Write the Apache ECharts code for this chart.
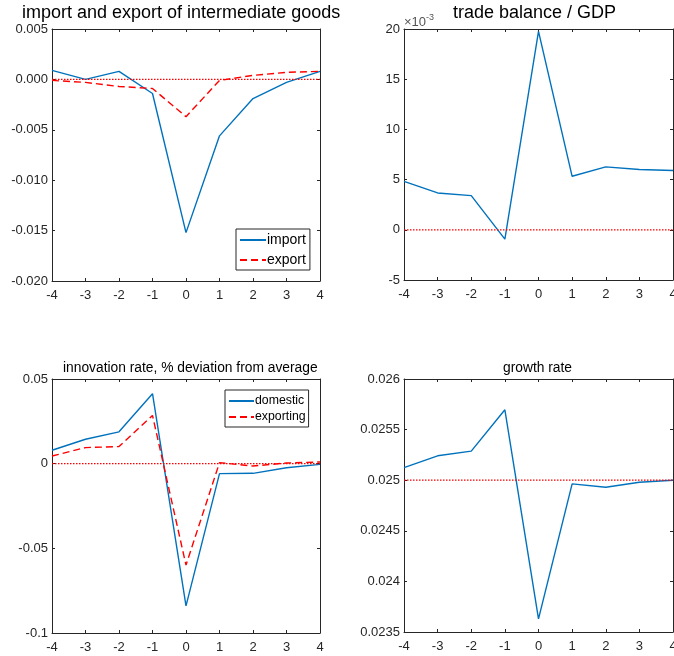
<!DOCTYPE html>
<html>
<head>
<meta charset="utf-8">
<script src="https://cdn.jsdelivr.net/npm/echarts@6/dist/echarts.min.js"></script>
<style>
  html, body { margin: 0; padding: 0; background: #fff; }
  #chart { width: 674px; height: 656px; }
</style>
</head>
<body>
<div id="chart"></div>
<script>
// Event-time horizon (periods around the shock)
const steps = [-4, -3, -2, -1, 0, 1, 2, 3, 4];

// Panel 1: import and export of intermediate goods
const importVals = [0.0009, 0.0000, 0.0008, -0.0014, -0.0152, -0.0056, -0.0019, -0.0003, 0.0008];
const exportVals = [-0.0001, -0.0003, -0.0007, -0.0009, -0.0037, -0.0001, 0.0004, 0.0007, 0.0008];

// Panel 2: trade balance / GDP
const tradeBalance = [0.00483, 0.00367, 0.00340, -0.00093, 0.01977, 0.00533, 0.00627, 0.00600, 0.00590];

// Panel 3: innovation rate, % deviation from average
const innovDomestic = [0.0079, 0.0144, 0.0188, 0.0413, -0.0840, -0.0059, -0.0057, -0.0024, -0.0004];
const innovExporting = [0.0045, 0.0095, 0.0101, 0.0285, -0.0599, 0.0006, -0.0014, 0.0004, 0.0010];

// Panel 4: growth rate
const growthRate = [0.025125, 0.025241, 0.025287, 0.025696, 0.023630, 0.024964, 0.024931, 0.024980, 0.025000];

// Reference (steady-state) level drawn in each panel
const baselines = [0, 0, 0, 0.025];

const titles = [
  'import and export of intermediate goods',
  'trade balance / GDP',
  'innovation rate, % deviation from average',
  'growth rate'
];

const BLUE = '#0072BD';
const RED = '#FF0000';
const AXIS = '#262626';
const FONT = '"Liberation Sans", Arial, Helvetica, sans-serif';

const pair = ys => steps.map((x, i) => [x, ys[i]]);

const grids = [
  { left: 52, top: 29, width: 268, height: 252 },
  { left: 404, top: 29, width: 269, height: 251 },
  { left: 52, top: 379, width: 268, height: 254 },
  { left: 404, top: 379, width: 269, height: 253 }
].map(g => Object.assign(g, { containLabel: false, outerBoundsMode: 'none' }));

const yRanges = [
  { min: -0.02, max: 0.005, interval: 0.005, fmt: v => v.toFixed(3) },
  { min: -0.005, max: 0.02, interval: 0.005, fmt: v => String(Math.round(v * 1000)) },
  { min: -0.1, max: 0.05, interval: 0.05, fmt: v => String(parseFloat(v.toFixed(4))) },
  { min: 0.0235, max: 0.026, interval: 0.0005, fmt: v => String(parseFloat(v.toFixed(4))) }
];

const xAxes = [];
const yAxes = [];
grids.forEach((g, i) => {
  const common = {
    gridIndex: i,
    axisLine: { show: true, onZero: false, lineStyle: { color: AXIS, width: 1 } },
    axisTick: { show: true, inside: true, length: 3, lineStyle: { color: AXIS } },
    splitLine: { show: false }
  };
  xAxes.push(Object.assign({}, common, {
    type: 'value', position: 'bottom', min: -4, max: 4, interval: 1,
    axisLabel: { color: AXIS, fontFamily: FONT, fontSize: 13, margin: 8 }
  }));
  xAxes.push(Object.assign({}, common, {
    type: 'value', position: 'top', min: -4, max: 4, interval: 1,
    axisLabel: { show: false }
  }));
  const r = yRanges[i];
  const yMain = Object.assign({}, common, {
    type: 'value', position: 'left', min: r.min, max: r.max, interval: r.interval,
    axisLabel: { color: AXIS, fontFamily: FONT, fontSize: 13, margin: 4, formatter: r.fmt }
  });
  if (i === 1) {
    yMain.name = '{a|\u00d710}{b|-3}';
    yMain.nameLocation = 'end';
    yMain.nameGap = 0;
    yMain.nameTextStyle = {
      align: 'left', verticalAlign: 'bottom', padding: [0, 0, 0, 0],
      rich: {
        a: { fontFamily: FONT, fontSize: 13, color: '#555', verticalAlign: 'bottom' },
        b: { fontFamily: FONT, fontSize: 9, color: '#555', verticalAlign: 'top', padding: [0, 0, 7, 0] }
      }
    };
  }
  yAxes.push(yMain);
  yAxes.push(Object.assign({}, common, {
    type: 'value', position: 'right', min: r.min, max: r.max, interval: r.interval,
    axisLabel: { show: false }
  }));
});

function lineSeries(name, panel, ys, color, dashed) {
  return {
    name: name,
    type: 'line',
    xAxisIndex: panel * 2,
    yAxisIndex: panel * 2,
    data: pair(ys),
    symbol: 'none',
    animation: false,
    lineStyle: { color: color, width: 1.4, type: dashed ? [7, 4] : 'solid' },
    itemStyle: { color: color }
  };
}

// Dotted reference level spanning the whole horizon
function baselineSeries(panel) {
  const level = baselines[panel];
  return {
    name: 'baseline' + panel,
    type: 'line',
    xAxisIndex: panel * 2,
    yAxisIndex: panel * 2,
    data: [[steps[0], level], [steps[steps.length - 1], level]],
    symbol: 'none',
    silent: true,
    animation: false,
    lineStyle: { color: RED, width: 1.3, type: [1.5, 1.5] }
  };
}

const series = [
  lineSeries('import', 0, importVals, BLUE, false),
  lineSeries('export', 0, exportVals, RED, true),
  baselineSeries(0),
  lineSeries('trade balance', 1, tradeBalance, BLUE, false),
  baselineSeries(1),
  lineSeries('domestic', 2, innovDomestic, BLUE, false),
  lineSeries('exporting', 2, innovExporting, RED, true),
  baselineSeries(2),
  lineSeries('growth rate', 3, growthRate, BLUE, false),
  baselineSeries(3)
];

const legendCommon = {
  orient: 'vertical',
  backgroundColor: '#fff',
  borderColor: AXIS,
  borderWidth: 1,
  borderRadius: 0,
  itemWidth: 26,
  itemHeight: 12,
  itemGap: 6,
  selectedMode: false,
  itemStyle: { opacity: 0 },
  textStyle: { color: '#000', fontFamily: FONT, fontSize: 14, padding: [0, 0, 0, -4] }
};

const option = {
  backgroundColor: '#fff',
  animation: false,
  title: [
    { text: titles[0], left: 22, top: 4, padding: 0,
      textStyle: { fontFamily: FONT, fontSize: 18, fontWeight: 'normal', color: '#000' } },
    { text: titles[1], left: 453, top: 4, padding: 0,
      textStyle: { fontFamily: FONT, fontSize: 18, fontWeight: 'normal', color: '#000' } },
    { text: titles[2], left: 63, top: 361, padding: 0,
      textStyle: { fontFamily: FONT, fontSize: 13.8, fontWeight: 'normal', color: '#000' } },
    { text: titles[3], left: 503, top: 361, padding: 0,
      textStyle: { fontFamily: FONT, fontSize: 13.8, fontWeight: 'normal', color: '#000' } }
  ],
  grid: grids,
  xAxis: xAxes,
  yAxis: yAxes,
  legend: [
    Object.assign({}, legendCommon, {
      data: ['import', 'export'], left: 236, top: 229, padding: [4, 4, 3, 3]
    }),
    Object.assign({}, legendCommon, {
      data: ['domestic', 'exporting'], left: 225, top: 390,
      padding: [5, 3, 4, 3], itemGap: 4, itemWidth: 25,
      textStyle: { color: '#000', fontFamily: FONT, fontSize: 12.3, padding: [0, 0, 0, -4] }
    })
  ],
  series: series
};

const chart = echarts.init(document.getElementById('chart'), null, { renderer: 'canvas' });
chart.setOption(option);
</script>
</body>
</html>
